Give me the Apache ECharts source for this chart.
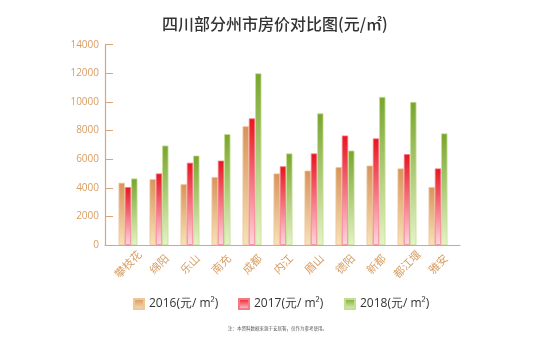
<!DOCTYPE html>
<html>
<head>
<meta charset="utf-8">
<style>
  html, body { margin: 0; padding: 0; background: #fff; }
  #chart { width: 553px; height: 344px; }
</style>
<script src="https://cdn.jsdelivr.net/npm/echarts@6/dist/echarts.min.js"></script>
</head>
<body>
<div id="chart"></div>
<script>
// City names along the x axis
const cities = ['攀枝花', '绵阳', '乐山', '南充', '成都', '内江', '眉山', '德阳', '新都', '都江堰', '雅安'];

// Average housing prices (元/㎡) per year
const price2016 = [4350, 4600, 4250, 4750, 8300, 5000, 5200, 5450, 5550, 5350, 4050];
const price2017 = [4050, 5000, 5750, 5900, 8850, 5500, 6400, 7650, 7450, 6350, 5350];
const price2018 = [4650, 6950, 6250, 7750, 12000, 6400, 9200, 6600, 10350, 10000, 7800];

const seriesNames = ['2016(元/ m²)', '2017(元/ m²)', '2018(元/ m²)'];

// Value axis ticks
const yMin = 0;
const yMax = 14000;
const yStep = 2000;

const tan = '#d89d63';
const axisColor = '#d6a67c';
const font = '"Noto Sans CJK SC", "Noto Sans", sans-serif';
const latin = '"Open Sans", "Noto Sans", sans-serif';

function fade(top, bottom) {
  return new echarts.graphic.LinearGradient(0, 0, 0, 1, [
    { offset: 0, color: top },
    { offset: 1, color: bottom }
  ]);
}

const palettes = [
  { top: '#d8935a', bottom: '#f8e2b8', border: '#efc79c' },
  { top: '#e8141f', bottom: '#ffd6e0', border: '#f47a86' },
  { top: '#78a52c', bottom: '#e6f3c8', border: '#c5de92' }
];
const values = [price2016, price2017, price2018];
const legendLeft = [128, 233, 339];

const chart = echarts.init(document.getElementById('chart'), null, { renderer: 'canvas' });

chart.setOption({
  backgroundColor: '#ffffff',
  animation: false,
  textStyle: { fontFamily: font },
  title: [
    {
      text: '四川部分州市房价对比图(元/㎡)',
      left: 157,
      top: 11,
      textStyle: { fontSize: 16, fontWeight: 500, color: '#333333', fontFamily: font }
    },
    {
      text: '注：本资料数据来源于安居客，仅作为参考使用。',
      left: 223,
      top: 321,
      textStyle: { fontSize: 4.5, fontWeight: 'normal', color: '#555555', fontFamily: font }
    }
  ],
  legend: seriesNames.map((name, i) => ({
    left: legendLeft[i],
    top: 293,
    itemWidth: 10,
    itemHeight: 10,
    icon: 'rect',
    data: [name],
    textStyle: { fontSize: 12, color: '#333333', fontFamily: latin }
  })),
  grid: [
    // frame grid: axis lines and value labels
    { left: 105, right: 93, top: 44.7, bottom: 99, containLabel: false },
    // plot grid: bars and city labels
    { left: 112.5, right: 99.5, top: 44.7, bottom: 99, containLabel: false }
  ],
  xAxis: [
    {
      type: 'category',
      gridIndex: 0,
      data: cities,
      axisLine: { lineStyle: { color: axisColor, width: 1.2 } },
      axisTick: { show: false },
      axisLabel: { show: false }
    },
    {
      type: 'category',
      gridIndex: 1,
      data: cities,
      axisLine: { show: false },
      axisTick: { show: false },
      axisLabel: {
        rotate: 45,
        margin: 19,
        align: 'center',
        verticalAlign: 'middle',
        fontSize: 11,
        color: tan,
        fontFamily: font
      }
    }
  ],
  yAxis: [
    {
      type: 'value',
      gridIndex: 0,
      min: yMin,
      max: yMax,
      interval: yStep,
      axisLine: { show: true, lineStyle: { color: axisColor, width: 1.2 } },
      axisTick: { show: true, inside: true, length: 8, lineStyle: { color: axisColor } },
      axisLabel: {
        margin: 6,
        fontSize: 10,
        color: tan,
        fontFamily: latin,
        formatter: (v) => String(v)
      },
      splitLine: { show: false }
    },
    {
      type: 'value',
      gridIndex: 1,
      min: yMin,
      max: yMax,
      interval: yStep,
      show: false,
      splitLine: { show: false }
    }
  ],
  series: values.map((arr, i) => ({
    name: seriesNames[i],
    type: 'bar',
    xAxisIndex: 1,
    yAxisIndex: 1,
    data: arr,
    barWidth: 6.3,
    barGap: '0%',
    itemStyle: {
      color: fade(palettes[i].top, palettes[i].bottom),
      borderColor: palettes[i].border,
      borderWidth: 0.8
    }
  }))
});
</script>
</body>
</html>
